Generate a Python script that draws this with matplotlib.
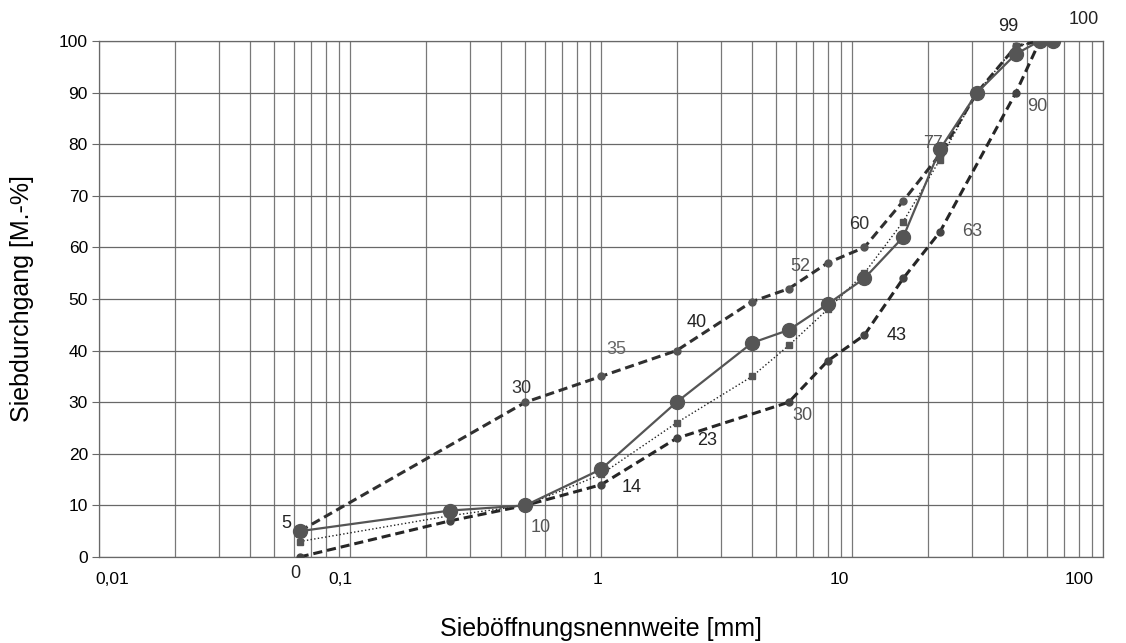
import numpy as np
import matplotlib
matplotlib.use("Agg")
import matplotlib.pyplot as plt
from matplotlib.ticker import FixedLocator, FixedFormatter, NullFormatter
from matplotlib.transforms import ScaledTranslation

plt.rcParams['font.family'] = ['Liberation Sans', 'DejaVu Sans']

# sieve sizes [mm] and passing [M.-%]
upper_x = [0.063, 0.5, 1, 2, 4, 5.6, 8, 11.2, 16, 22.4, 31.5, 45, 56]
upper_y = [5, 30, 35, 40, 49.5, 52, 57, 60, 69, 78, 90, 99, 100]

lower_x = [0.063, 0.25, 0.5, 1, 2, 5.6, 8, 11.2, 16, 22.4, 45, 56]
lower_y = [0, 7, 10, 14, 23, 30, 38, 43, 54, 63, 90, 100]

solid_x = [0.063, 0.25, 0.5, 1, 2, 4, 5.6, 8, 11.2, 16, 22.4, 31.5, 45, 56, 63]
solid_y = [5, 9, 10, 17, 30, 41.5, 44, 49, 54, 62, 79, 90, 97.5, 100, 100]

dotted_x = [0.063, 0.25, 0.5, 1, 2, 4, 5.6, 8, 11.2, 16, 22.4, 31.5, 45, 56]
dotted_y = [3, 8, 10, 16, 26, 35, 41, 48, 55, 65, 77, 90, 99, 100]

x_ticks = [0.01, 0.1, 1, 10, 100]
x_tick_labels = ['0,01', '0,1', '1', '10', '100']
x_tick_shift = [13, -10, -3, -13, -24]   # px, the labels sit a bit off their lines
y_ticks = list(range(0, 101, 10))

# data labels: (series, index, offset px right, offset px down, colour)
labels = [
    ('upper', 0, -13, -8, '#222222'),
    ('lower', 0, -4, 16, '#222222'),
    ('upper', 1, -4, -14, '#333333'),
    ('lower', 2, 15, 22, '#555555'),
    ('lower', 3, 31, 3, '#222222'),
    ('upper', 2, 15, -27, '#666666'),
    ('upper', 3, 20, -28, '#222222'),
    ('lower', 4, 31, 2, '#222222'),
    ('upper', 5, 12, -22, '#555555'),
    ('lower', 5, 14, 13, '#555555'),
    ('upper', 7, -5, -23, '#333333'),
    ('lower', 7, 32, 0, '#222222'),
    ('lower', 9, 32, 0, '#555555'),
    ('dotted', 10, -7, -16, '#555555'),
    ('lower', 10, 21, 14, '#555555'),
    ('upper', 11, -8, -20, '#222222'),
    ('solid', 14, 31, -21, '#222222'),
]
series = {'upper': (upper_x, upper_y), 'lower': (lower_x, lower_y),
          'solid': (solid_x, solid_y), 'dotted': (dotted_x, dotted_y)}

fig = plt.figure(figsize=(11.26, 6.43), dpi=100)
ax = fig.add_axes([99 / 1126, 1 - 557 / 643, 1004 / 1126, 516 / 643])

ax.set_xscale('log')
ax.set_xlim(0.01, 100)
ax.set_ylim(0, 100)

# grid: every decade line plus 2..9 lines
minor = [m * 10.0 ** e for e in range(-2, 2) for m in range(2, 10)]
ax.xaxis.set_major_locator(FixedLocator(x_ticks))
ax.xaxis.set_major_formatter(FixedFormatter(x_tick_labels))
ax.xaxis.set_minor_locator(FixedLocator(minor))
ax.xaxis.set_minor_formatter(NullFormatter())
ax.set_yticks(y_ticks)
ax.grid(True, which='both', axis='x', color='#787878', lw=0.9)
ax.grid(True, which='major', axis='y', color='#686868', lw=0.9)
ax.set_axisbelow(True)
for s in ax.spines.values():
    s.set_color('#686868')
    s.set_linewidth(0.9)
ax.tick_params(axis='x', which='both', length=0, labelsize=12.5, pad=11)
ax.tick_params(axis='y', length=5, color='#686868', labelsize=12.5, pad=3)

for lab, dx in zip(ax.get_xticklabels(), x_tick_shift):
    lab.set_transform(lab.get_transform() + ScaledTranslation(dx / 100, 0, fig.dpi_scale_trans))

ax.plot(upper_x, upper_y, ls=(0, (3, 1.6)), lw=2.2, color='#303030',
        marker='o', ms=5, mfc='#555555', mec='#555555', zorder=3)
ax.plot(lower_x, lower_y, ls=(0, (3, 1.6)), lw=2.2, color='#262626',
        marker='o', ms=5, mfc='#444444', mec='#444444', zorder=3)
ax.plot(dotted_x, dotted_y, ls=':', lw=1.0, color='#222222',
        marker='s', ms=4, mfc='#555555', mec='#555555', zorder=4)
ax.plot(solid_x, solid_y, ls='-', lw=1.6, color='#555555',
        marker='o', ms=10, mfc='#555555', mec='#555555', zorder=5)

for name, i, dx, dy, col in labels:
    xs, ys = series[name]
    ax.annotate(f"{ys[i]:g}", (xs[i], ys[i]), xytext=(dx, -dy),
                textcoords='offset pixels', ha='center', va='center',
                fontsize=13, color=col, zorder=6, annotation_clip=False)

ax.set_xlabel('Sieböffnungsnennweite [mm]', fontsize=18, va='center')
ax.set_ylabel('Siebdurchgang [M.-%]', fontsize=18, va='center')
ax.xaxis.set_label_coords(0.5, (557 - 629) / 516)
ax.yaxis.set_label_coords((22 - 99) / 1004, 0.5)

fig.savefig('out.png', dpi=100)
